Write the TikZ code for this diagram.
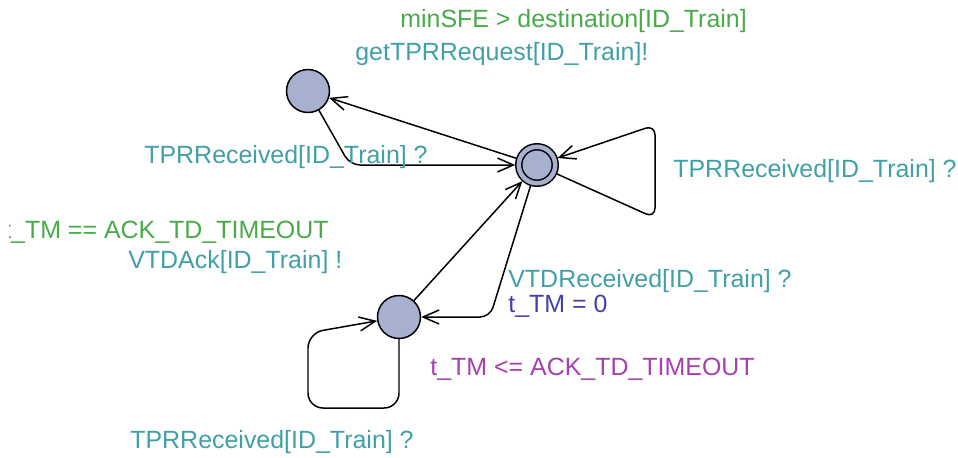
\documentclass[tikz,border=0pt]{standalone}
\usepackage{fontspec}
\setmainfont{Liberation Sans}
\usetikzlibrary{arrows.meta, positioning}

\definecolor{statefill}{RGB}{168,176,208}
\definecolor{guardcol}{RGB}{72,170,72}
\definecolor{synccol}{RGB}{64,160,166}
\definecolor{assigncol}{RGB}{68,64,168}
\definecolor{invcol}{RGB}{166,64,176}

\tikzset{
  loc/.style={circle, draw, fill=statefill, line width=0.85pt, minimum size=0.86cm, inner sep=0pt},
  initloc/.style={loc, minimum size=0.73cm, double=statefill, double distance=0.09cm, outer sep=0.07cm},
  edge/.style={line width=0.85pt, rounded corners=0.2cm, -{Straight Barb[length=3.2mm,width=2.8mm]}},
  lbl/.style={anchor=base west, inner sep=0pt, font=\fontsize{14.2}{16}\selectfont},
}

\begin{document}
\begin{tikzpicture}[x=0.02cm, y=-0.02cm]
    \clip (0,0) rectangle (958,457);
    \node[loc] (idle) at (308,91) {};
    \node[initloc] (wait) at (537,165) {};
    \node[loc] (ack) at (399,317) {};

    \draw[edge] (wait) to (idle);
    \draw[edge] (idle) -- (350,165) -- (wait);
    \draw[edge] (wait) -- (655,218) -- (655,125) -- (wait);
    \draw[edge] (ack) to (wait);
    \draw[edge] (wait) -- (490,317) -- (ack);
    \draw[edge, rounded corners=0.3cm] (ack) -- (399,408) -- (308,408) -- (308,333) -- (ack);

    \node[lbl, text=guardcol] (g1) at (400,27) {minSFE > destination[ID\_Train]};
    \node[lbl, text=synccol] (s1) at (355,60) {getTPRRequest[ID\_Train]!};
    \node[lbl, text=synccol] (s2) at (144,163) {TPRReceived[ID\_Train] ?};
    \node[lbl, text=synccol] (s3) at (673,177) {TPRReceived[ID\_Train] ?};
    \begin{scope}
      % the guard is cut at the left edge
      \clip (9,200) rectangle (400,250);
      \node[lbl, anchor=base east, text=guardcol] (g2) at (329,238) {t\_TM == ACK\_TD\_TIMEOUT};
    \end{scope}
    \node[lbl, text=synccol] (s4) at (128,268) {VTDAck[ID\_Train] !};
    \node[lbl, text=synccol] (s5) at (508,287) {VTDReceived[ID\_Train] ?};
    \node[lbl, text=assigncol] (a1) at (508,312) {t\_TM = 0};
    \node[lbl, text=invcol] (inv) at (430,375) {t\_TM <= ACK\_TD\_TIMEOUT};
    \node[lbl, text=synccol] (s6) at (130,448) {TPRReceived[ID\_Train] ?};
\end{tikzpicture}
\end{document}
